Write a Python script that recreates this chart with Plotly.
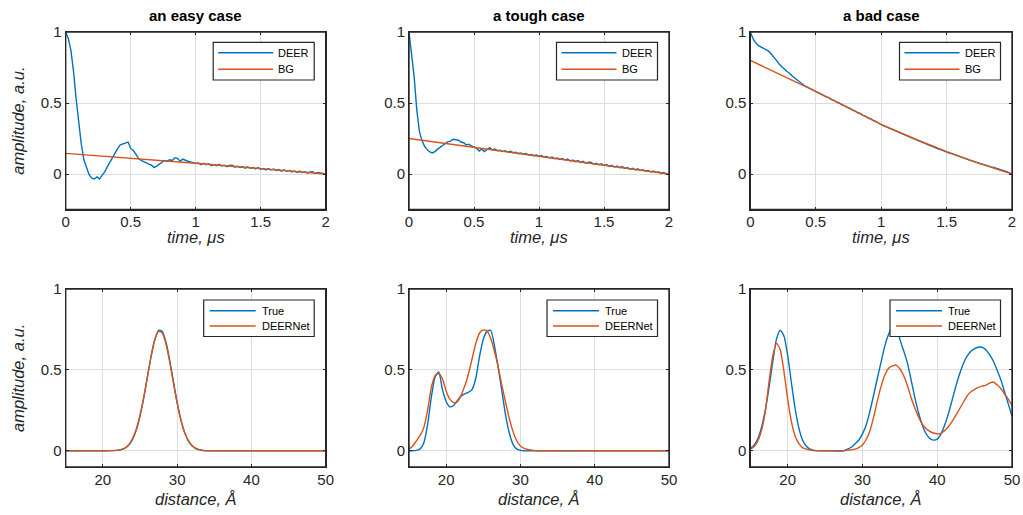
import numpy as np
import plotly.graph_objects as go

# ---------------- data ----------------
titles = ["an easy case", "a tough case", "a bad case"]
time_label = "time, μs"
dist_label = "distance, Å"
amp_label = "amplitude, a.u."
top_names = ["DEER", "BG"]
bottom_names = ["True", "DEERNet"]

t = np.linspace(0, 2, 101)  # sampling grid, microseconds

deer_easy = [1.0, 0.955, 0.87, 0.725, 0.53, 0.36, 0.21, 0.10, 0.04, -0.005,
             -0.03, -0.035, -0.02, -0.035, -0.01, 0.015, 0.05, 0.085, 0.12, 0.155,
             0.18, 0.205, 0.21, 0.215, 0.225, 0.18, 0.165, 0.14, 0.11, 0.095,
             0.085, 0.075, 0.07, 0.062, 0.045, 0.055, 0.07, 0.085, 0.095, 0.09,
             0.10, 0.095, 0.115, 0.11, 0.09, 0.105, 0.095, 0.09, 0.085, 0.08,
             0.075,
             0.078, 0.066, 0.076, 0.065, 0.072, 0.059, 0.067, 0.058, 0.068, 0.056,
             0.062, 0.051, 0.061, 0.062, 0.048, 0.055, 0.046, 0.051, 0.041, 0.050,
             0.040, 0.046, 0.036, 0.045, 0.034, 0.039, 0.029, 0.038, 0.028, 0.035,
             0.024, 0.031, 0.020, 0.029, 0.019, 0.025, 0.015, 0.021, 0.011, 0.020,
             0.010, 0.016, 0.006, 0.015, 0.016, 0.003, 0.010, 0.006, 0.005, 0.0]

deer_tough = [1.0, 0.85, 0.68, 0.45, 0.30, 0.235, 0.195, 0.172, 0.155, 0.148,
              0.158, 0.175, 0.19, 0.205, 0.215, 0.228, 0.232, 0.245, 0.24, 0.238,
              0.225, 0.22, 0.205, 0.21, 0.198, 0.19, 0.182, 0.162, 0.175, 0.158,
              0.172, 0.185, 0.17, 0.176, 0.164, 0.168, 0.158, 0.164, 0.155, 0.160,
              0.150, 0.154, 0.143, 0.148, 0.139, 0.145, 0.133, 0.137, 0.129, 0.134,
              0.124,
              0.130, 0.118, 0.124, 0.114, 0.120, 0.107, 0.113, 0.103, 0.109, 0.098,
              0.105, 0.091, 0.098, 0.087, 0.094, 0.082, 0.089, 0.076, 0.083, 0.083,
              0.069, 0.075, 0.065, 0.072, 0.060, 0.066, 0.053, 0.061, 0.049, 0.056,
              0.044, 0.052, 0.040, 0.046, 0.033, 0.040, 0.029, 0.036, 0.024, 0.030,
              0.020, 0.025, 0.014, 0.021, 0.010, 0.015, 0.004, 0.010, 0.001, 0.0]

deer_bad = [1.0, 0.955, 0.925, 0.905, 0.895, 0.885, 0.872, 0.865, 0.845, 0.825,
            0.80, 0.775, 0.76, 0.74, 0.722, 0.71, 0.69, 0.675, 0.66, 0.642,
            0.63, 0.618, 0.61, 0.60, 0.59, 0.583, 0.575, 0.561, 0.556, 0.543,
            0.538, 0.524, 0.519, 0.506, 0.500, 0.487, 0.482, 0.469, 0.463, 0.450,
            0.445, 0.431, 0.426, 0.413, 0.408, 0.394, 0.389, 0.376, 0.370, 0.356,
            0.347,
            0.339, 0.331, 0.322, 0.314, 0.306, 0.297, 0.290, 0.281, 0.274, 0.265,
            0.258, 0.250, 0.242, 0.235, 0.228, 0.220, 0.213, 0.205, 0.199, 0.190,
            0.184, 0.176, 0.170, 0.161, 0.156, 0.148, 0.143, 0.135, 0.130, 0.122,
            0.117, 0.109, 0.104, 0.096, 0.091, 0.083, 0.079, 0.072, 0.068, 0.061,
            0.057, 0.050, 0.046, 0.040, 0.038, 0.031, 0.025, 0.016, 0.008, 0.0]

bg_t_easy = [0, 0.5, 1.0, 1.5, 2.0]
bg_easy = [0.145, 0.112, 0.076, 0.038, 0.0]
bg_t_tough = [0, 0.5, 1.0, 1.5, 2.0]
bg_tough = [0.25, 0.19, 0.125, 0.062, 0.0]
bg_t_bad = [0, 0.25, 0.5, 0.75, 1.0, 1.25, 1.5, 1.75, 2.0]
bg_bad = [0.80, 0.693, 0.582, 0.466, 0.35, 0.25, 0.157, 0.075, 0.0]

# distance distributions
r_easy = [15, 20, 22, 22.5, 23, 23.5, 24, 24.5, 25, 25.5, 26, 26.5, 27, 27.5, 28,
          28.5, 29, 29.5, 30, 30.5, 31, 31.5, 32, 32.5, 33, 33.5, 34, 36, 40, 50]
true_easy = [0, 0, 0.003, 0.007, 0.016, 0.035, 0.070, 0.128, 0.213, 0.325, 0.455, 0.585,
             0.689, 0.745, 0.738, 0.671, 0.560, 0.428, 0.300, 0.193, 0.114, 0.062,
             0.031, 0.014, 0.006, 0.002, 0.0, 0, 0, 0]
net_easy = [0, 0, 0.004, 0.009, 0.019, 0.039, 0.076, 0.135, 0.22, 0.33, 0.458, 0.585,
            0.685, 0.738, 0.728, 0.66, 0.55, 0.42, 0.296, 0.192, 0.115, 0.064,
            0.033, 0.016, 0.007, 0.003, 0.001, 0, 0, 0]

r_tough = [15, 15.5, 16, 16.5, 17, 17.5, 18, 18.5, 19, 19.5, 20, 20.5, 21, 21.5, 22,
           22.5, 23, 23.5, 24, 24.5, 25, 25.5, 26, 26.5, 27, 27.5, 28, 28.5, 29,
           29.5, 30, 30.5, 31, 31.5, 32, 33, 40, 50]
true_tough = [0.0, 0.0, 0.003, 0.012, 0.05, 0.16, 0.33, 0.455, 0.488, 0.38, 0.305,
              0.272, 0.28, 0.31, 0.338, 0.352, 0.362, 0.38, 0.45, 0.585, 0.69, 0.738,
              0.745, 0.65, 0.517, 0.37, 0.22, 0.11, 0.04, 0.012, 0.003, 0.0, 0.0,
              0.0, 0.0, 0.0, 0.0, 0.0]
net_tough = [0.01, 0.03, 0.062, 0.095, 0.145, 0.25, 0.39, 0.465, 0.478, 0.445, 0.37,
             0.32, 0.298, 0.302, 0.342, 0.40, 0.475, 0.57, 0.665, 0.728, 0.747, 0.74,
             0.695, 0.615, 0.52, 0.405, 0.30, 0.20, 0.12, 0.062, 0.03, 0.015, 0.008,
             0.004, 0.001, 0.0, 0.0, 0.0]

r_bad = [15, 15.5, 16, 16.5, 17, 17.5, 18, 18.5, 19, 19.5, 20, 20.5, 21, 21.5, 22,
         22.5, 23, 23.5, 24, 25, 27.5, 28, 28.5, 29, 29.5, 30, 30.5, 31, 31.5, 32,
         32.5, 33, 33.5, 34, 34.5, 35, 35.5, 36, 36.5, 37, 37.5, 38, 38.5, 39, 39.5,
         40, 40.5, 41, 41.5, 42, 42.5, 43, 43.5, 44, 44.5, 45, 45.5, 46, 46.5, 47,
         47.5, 48, 48.5, 49, 49.5, 50]
true_bad = [0.015, 0.035, 0.075, 0.145, 0.25, 0.39, 0.55, 0.69, 0.745, 0.71, 0.59,
            0.42, 0.26, 0.14, 0.065, 0.028, 0.01, 0.003, 0.0, 0.0, 0.0, 0.01, 0.022,
            0.042, 0.065, 0.105, 0.16, 0.245, 0.345, 0.45, 0.55, 0.65, 0.72, 0.765,
            0.775, 0.69, 0.62, 0.545, 0.44, 0.33, 0.235, 0.16, 0.107, 0.077, 0.066,
            0.072, 0.105, 0.16, 0.23, 0.315, 0.40, 0.476, 0.54, 0.585, 0.615, 0.632,
            0.64, 0.64, 0.625, 0.595, 0.555, 0.50, 0.44, 0.365, 0.29, 0.215]
net_bad = [0.01, 0.025, 0.06, 0.125, 0.24, 0.425, 0.585, 0.665, 0.625, 0.49, 0.32,
           0.18, 0.09, 0.045, 0.02, 0.01, 0.004, 0.002, 0.001, 0.0, 0.0, 0.004,
           0.006, 0.01, 0.02, 0.036, 0.07, 0.124, 0.21, 0.31, 0.40, 0.47, 0.51,
           0.525, 0.53, 0.507, 0.465, 0.405, 0.33, 0.265, 0.21, 0.165, 0.138, 0.12,
           0.11, 0.105, 0.108, 0.125, 0.15, 0.182, 0.22, 0.26, 0.30, 0.34, 0.365,
           0.38, 0.392, 0.40, 0.405, 0.418, 0.425, 0.408, 0.385, 0.352, 0.32, 0.28]

top_series = [(deer_easy, bg_t_easy, bg_easy),
              (deer_tough, bg_t_tough, bg_tough),
              (deer_bad, bg_t_bad, bg_bad)]
bottom_series = [(r_easy, true_easy, net_easy),
                 (r_tough, true_tough, net_tough),
                 (r_bad, true_bad, net_bad)]

# ---------------- style ----------------
BLUE = "#0072BD"
ORANGE = "#D95319"
AX = "#262626"
GRID = "#dcdcdc"
FONT = "Liberation Sans, Arial, Helvetica, sans-serif"
W, H = 1023, 515
LW = 1.4

x_dom = [[65.7, 325.7], [409.0, 669.0], [750.3, 1012.0]]
y_top = [32.0, 209.5]
y_bot = [289.0, 467.0]


def xd(px):
    return [px[0] / W, px[1] / W]


def yd(py):
    return [1 - py[1] / H, 1 - py[0] / H]


def px2x(px):
    return px / W


def py2y(py):
    return 1 - py / H


fig = go.Figure()

for i in range(3):
    n_top, n_bot = i + 1, i + 4
    deer, bt, bg = top_series[i]
    xs = "x" if n_top == 1 else f"x{n_top}"
    ys = "y" if n_top == 1 else f"y{n_top}"
    fig.add_trace(go.Scatter(x=t, y=deer, mode="lines", name=top_names[0],
                             line=dict(color=BLUE, width=LW), showlegend=False,
                             xaxis=xs, yaxis=ys))
    fig.add_trace(go.Scatter(x=bt, y=bg, mode="lines", name=top_names[1],
                             line=dict(color=ORANGE, width=LW), showlegend=False,
                             xaxis=xs, yaxis=ys))
    r, tr, nt = bottom_series[i]
    fig.add_trace(go.Scatter(x=r, y=tr, mode="lines", name=bottom_names[0],
                             line=dict(color=BLUE, width=LW, shape="spline", smoothing=0.6),
                             showlegend=False, xaxis=f"x{n_bot}", yaxis=f"y{n_bot}"))
    fig.add_trace(go.Scatter(x=r, y=nt, mode="lines", name=bottom_names[1],
                             line=dict(color=ORANGE, width=LW, shape="spline", smoothing=0.6),
                             showlegend=False, xaxis=f"x{n_bot}", yaxis=f"y{n_bot}"))

common = dict(showline=True, linecolor=AX, linewidth=1, mirror="ticks",
              ticks="inside", ticklen=3, tickcolor=AX, tickwidth=1,
              showgrid=True, gridcolor=GRID, gridwidth=1, zeroline=False,
              tickfont=dict(family=FONT, size=15, color=AX), automargin=False,
              layer="above traces")

layout = dict(width=W, height=H, margin=dict(l=0, r=0, t=0, b=0),
              paper_bgcolor="white", plot_bgcolor="white",
              font=dict(family=FONT, color=AX), showlegend=False)

annotations = []
shapes = []
label_font = dict(family=FONT, size=16.5, color=AX)
leg_font = dict(family=FONT, size=11, color="black")

for i in range(3):
    n_top, n_bot = i + 1, i + 4
    xk_t = "xaxis" if n_top == 1 else f"xaxis{n_top}"
    yk_t = "yaxis" if n_top == 1 else f"yaxis{n_top}"
    ya_t = "y" if n_top == 1 else f"y{n_top}"
    xa_t = "x" if n_top == 1 else f"x{n_top}"
    layout[xk_t] = dict(common, domain=xd(x_dom[i]), anchor=ya_t, range=[0, 2],
                        tickvals=[0, 0.5, 1, 1.5, 2], ticktext=["0", "0.5", "1", "1.5", "2"],
                        ticklabelstandoff=-2)
    layout[yk_t] = dict(common, domain=yd(y_top), anchor=xa_t, range=[-0.25, 1],
                        tickvals=[0, 0.5, 1], ticktext=["0", "0.5", "1"])
    layout[f"xaxis{n_bot}"] = dict(common, domain=xd(x_dom[i]), anchor=f"y{n_bot}",
                                   range=[15, 50], tickvals=[20, 30, 40, 50],
                                   ticktext=["20", "30", "40", "50"], ticklabelstandoff=-1)
    layout[f"yaxis{n_bot}"] = dict(common, domain=yd(y_bot), anchor=f"x{n_bot}",
                                   range=[-0.1, 1], tickvals=[0, 0.5, 1],
                                   ticktext=["0", "0.5", "1"])

    # frames (box around each axes)
    for xa, ya in [(xa_t, ya_t), (f"x{n_bot}", f"y{n_bot}")]:
        shapes.append(dict(type="rect", xref=f"{xa} domain", yref=f"{ya} domain",
                           x0=0, x1=1, y0=0, y1=1, line=dict(color=AX, width=1.4),
                           fillcolor="rgba(0,0,0,0)", layer="above"))

    cx = (x_dom[i][0] + x_dom[i][1]) / 2
    # subplot titles
    annotations.append(dict(text=f"<b>{titles[i]}</b>", x=px2x(cx), y=py2y(15.5),
                            xref="paper", yref="paper", xanchor="center", yanchor="middle",
                            showarrow=False, font=dict(family=FONT, size=15, color="black")))
    # axis titles
    annotations.append(dict(text=f"<i>{time_label}</i>", x=px2x(cx), y=py2y(237),
                            xref="paper", yref="paper", xanchor="center", yanchor="middle",
                            showarrow=False, font=label_font))
    annotations.append(dict(text=f"<i>{dist_label}</i>", x=px2x(cx), y=py2y(499),
                            xref="paper", yref="paper", xanchor="center", yanchor="middle",
                            showarrow=False, font=label_font))

    # legend boxes (top: DEER/BG, bottom: True/DEERNet)
    right = x_dom[i][1] - 11.5
    lx0, lx1, ly0, ly1 = right - 101, right, 42.3, 80.0
    shapes.append(dict(type="rect", xref="paper", yref="paper", x0=px2x(lx0), x1=px2x(lx1),
                       y0=py2y(ly1), y1=py2y(ly0), line=dict(color=AX, width=1.2),
                       fillcolor="white", layer="above"))
    for nm, col, yy in [(top_names[0], BLUE, 52.7), (top_names[1], ORANGE, 69.3)]:
        shapes.append(dict(type="line", xref="paper", yref="paper",
                           x0=px2x(lx0 + 5), x1=px2x(lx0 + 60), y0=py2y(yy), y1=py2y(yy),
                           line=dict(color=col, width=LW), layer="above"))
        annotations.append(dict(text=nm, x=px2x(lx0 + 63), y=py2y(yy), xref="paper",
                                yref="paper", xanchor="left", yanchor="middle",
                                showarrow=False, font=leg_font))
    lx0, lx1, ly0, ly1 = right - 110.5, right, 300.0, 336.5
    shapes.append(dict(type="rect", xref="paper", yref="paper", x0=px2x(lx0), x1=px2x(lx1),
                       y0=py2y(ly1), y1=py2y(ly0), line=dict(color=AX, width=1.2),
                       fillcolor="white", layer="above"))
    for nm, col, yy in [(bottom_names[0], BLUE, 310.7), (bottom_names[1], ORANGE, 326.0)]:
        shapes.append(dict(type="line", xref="paper", yref="paper",
                           x0=px2x(lx0 + 6), x1=px2x(lx0 + 52), y0=py2y(yy), y1=py2y(yy),
                           line=dict(color=col, width=LW), layer="above"))
        annotations.append(dict(text=nm, x=px2x(lx0 + 56), y=py2y(yy), xref="paper",
                                yref="paper", xanchor="left", yanchor="middle",
                                showarrow=False, font=leg_font))

# y-axis titles (left column only)
for yc in [(y_top[0] + y_top[1]) / 2, (y_bot[0] + y_bot[1]) / 2]:
    annotations.append(dict(text=f"<i>{amp_label}</i>", x=px2x(18), y=py2y(yc),
                            xref="paper", yref="paper", xanchor="center", yanchor="middle",
                            textangle=-90, showarrow=False, font=label_font))

layout["annotations"] = annotations
layout["shapes"] = shapes
fig.update_layout(**layout)

fig.write_html("out.html", config={"displayModeBar": False},
               post_script="document.body.style.margin='0px';"
                           "document.body.style.overflow='hidden';")
